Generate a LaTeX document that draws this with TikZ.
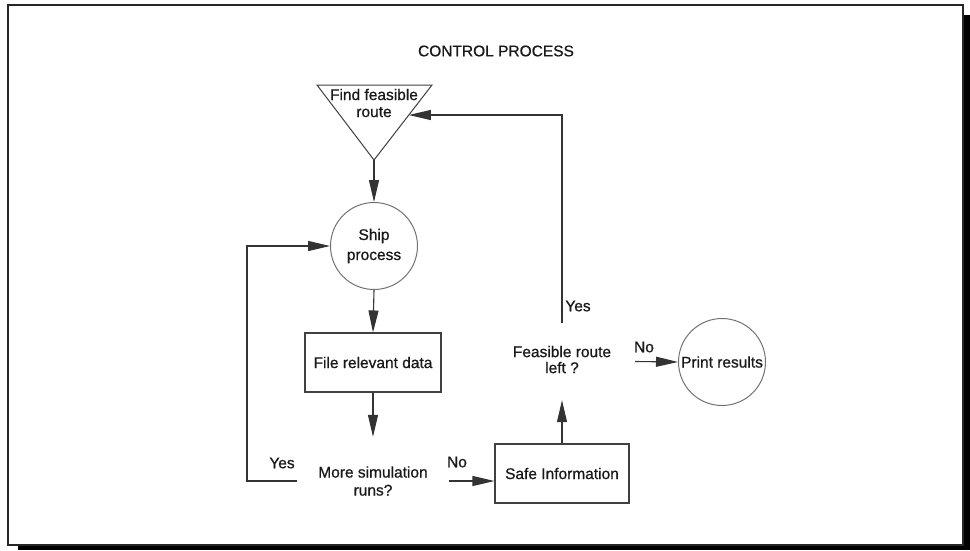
\documentclass[tikz,border=0pt]{standalone}
\usepackage{fontspec}
\setmainfont{Liberation Sans}[UprightFeatures={FakeBold=0.7}]
\usetikzlibrary{arrows.meta,calc}
\begin{document}
\begin{tikzpicture}[x=1pt,y=-1pt,
  every node/.style={font=\fontsize{15.5}{18}\selectfont, text=black!90},
  flowline/.style={draw=black!80, line width=1.1pt},
  arr/.style={flowline, -{Triangle[length=22pt,width=10pt]}},
  procbox/.style={draw=black!75, line width=1.1pt, rectangle, minimum width=136pt, minimum height=59pt, inner sep=2pt},
  termcircle/.style={draw=black!55, line width=1pt, circle, minimum size=87pt, inner sep=0pt, align=center},
  decision/.style={rectangle, inner sep=0pt, align=center},
  tag/.style={inner sep=1pt}
]
% page and frame with drop shadow
\useasboundingbox (0,0) rectangle (970,550);
\fill[white] (0,0) rectangle (970,550);
\fill[black] (18,15) rectangle (970,550);
\filldraw[fill=white, draw=black!85, line width=1.6pt] (8,5) rectangle (963,545);

% title
\node (title) at (496,51) {CONTROL PROCESS};

% inverted triangle holding the route search
\coordinate (triL) at (317,85);
\coordinate (triR) at (432,85);
\coordinate (apex) at (374,160);
\draw[draw=black!75, line width=1pt, line join=miter] (triL) -- (triR) -- (apex) -- cycle;
\node[align=center, font=\fontsize{15.5}{17}\selectfont] (find) at (374,103) {Find feasible\\route};
\coordinate (findin) at ($(triR)!0.4!(apex)$);

% process nodes
\node[termcircle, font=\fontsize{15.5}{20}\selectfont] (ship) at (374,246) {Ship\\process};
\node[procbox] (file) at (373,362.5) {File relevant data};
\node[decision, minimum width=152pt, minimum height=88pt] (more) at (373,481) {More simulation\\runs?};
\node[procbox, minimum width=134pt] (safe) at (562,473.5) {Safe Information};
\node[decision, minimum width=146pt, minimum height=77pt] (feas) at (562,361.5)
  {\raisebox{-6.5pt}{\begin{tabular}{@{}c@{}}Feasible route\\[-2pt]left ?\end{tabular}}};
\node[termcircle] (print) at (722,362) {Print results};

% connectors
\draw[arr] (apex) -- (ship.north);
\draw[arr] (ship.south) -- (file.north);
\draw[arr] (file.south) -- (more.north);
\draw[arr] (more.east) -- (more.east -| safe.west);
\draw[arr] (safe.north) -- (feas.south);
\draw[arr] (feas.east) -- (print.west);
\coordinate (loopL) at (247,481);
\draw[arr] (more.west) -- (loopL) |- (ship.west);
\draw[arr] (feas.north) |- (findin);

% branch labels
\node[tag] (yesTop) at (578,306) {Yes};
\node[tag] (yesLeft) at (282,463) {Yes};
\node[tag] (noLow) at (457,462) {No};
\node[tag] (noRight) at (644,347) {No};
\end{tikzpicture}
\end{document}
